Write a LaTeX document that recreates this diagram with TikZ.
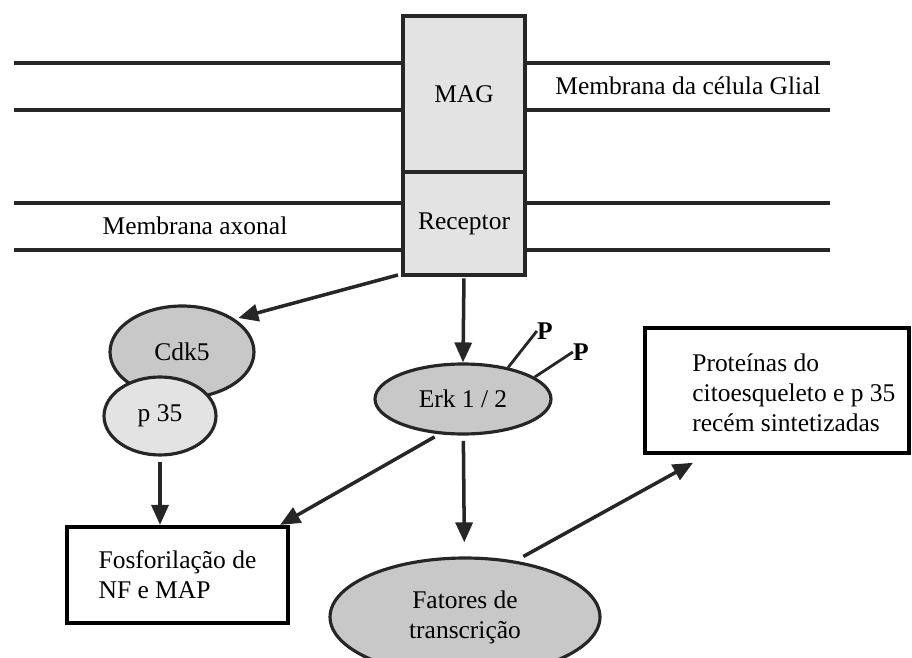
\documentclass[tikz,border=0pt]{standalone}
\usepackage{fontspec}
\setmainfont{Liberation Serif}
\usetikzlibrary{shapes,arrows.meta,positioning}

\begin{document}
\begin{tikzpicture}[
    x=0.02cm, y=-0.02cm,
    font=\fontsize{14.5}{17}\selectfont,
    membrane/.style={draw=black!85, line width=2.2pt},
    protein/.style={rectangle, draw=black!85, line width=2.2pt, fill=gray!22, minimum width=2.44cm, outer sep=0pt},
    blob/.style={ellipse, draw=black!85, line width=1.8pt, fill=gray!43, inner sep=0pt},
    result/.style={rectangle, draw=black, line width=2.4pt, fill=white},
    phos/.style={font=\fontsize{14.5}{17}\selectfont\bfseries, inner sep=0pt},
    arrow/.style={-{Triangle[length=0.4cm, width=0.34cm]}, line width=2pt, draw=black!85}
]
    \clip (0,0) rectangle (912,658);

    % MAG and its receptor
    \node[protein, minimum height=3.12cm] (mag) at (464,94) {MAG};
    \node[protein, minimum height=2.06cm, below=0pt of mag] (receptor) {Receptor};

    % Membranes
    \foreach \y in {63,110,203,250} {
        \draw[membrane] (14,\y) -- (mag.west |- 0,\y);
        \draw[membrane] (mag.east |- 0,\y) -- (830,\y);
    }
    \node[anchor=west, inner sep=0pt] (glial) at (555,86) {Membrana da célula Glial};
    \node[inner sep=0pt] (axonal) at (195,226) {Membrana axonal};

    % Kinases
    \node[blob, minimum width=2.88cm, minimum height=1.84cm] (cdk5) at (182,352) {Cdk5};
    \node[blob, fill=gray!22, minimum width=2.24cm, minimum height=1.56cm] (p35) at (160,416) {p 35};
    \node[blob, minimum width=3.52cm, minimum height=1.4cm] (erk) at (463,399) {Erk 1 / 2};
    \node[phos] (pa) at (545,331) {P};
    \node[phos] (pb) at (581,352) {P};
    \draw[line width=1.6pt, black!85] (erk.35) -- (pa.west);
    \draw[line width=1.6pt, black!85] (erk.17) -- (pb.west);

    % Outcomes
    \node[result, minimum width=4.42cm, minimum height=1.92cm, align=left] (fosf) at (177.5,575) {Fosforilação de\\NF e MAP};
    \node[blob, minimum width=5.4cm, minimum height=2.36cm, align=center] (fatores) at (465,617) {Fatores de\\transcrição};
    \node[result, minimum width=5.28cm, minimum height=2.5cm] (prot) at (777,390.5) {};
    \node[anchor=west, align=left, inner sep=0pt] (prottext) at (692,393) {Proteínas do\\citoesqueleto e p 35\\recém sintetizadas};

    % Arrows
    \draw[arrow, shorten >=2pt] ([xshift=-0.1cm]receptor.south west) -- (cdk5.32);
    \draw[arrow, shorten <=2pt] (receptor.south) -- (erk.north);
    \draw[arrow, shorten <=3pt] (p35) -- (p35 |- fosf.north);
    \draw[arrow, shorten <=3pt] (erk.236) -- ([xshift=-0.2cm]fosf.north east);
    \draw[arrow, shorten <=3pt, shorten >=8pt] (erk) -- (fatores);
    \draw[arrow, shorten <=5pt, shorten >=9pt] (fatores.48) -- ([xshift=1.28cm]prot.south west);
\end{tikzpicture}
\end{document}
